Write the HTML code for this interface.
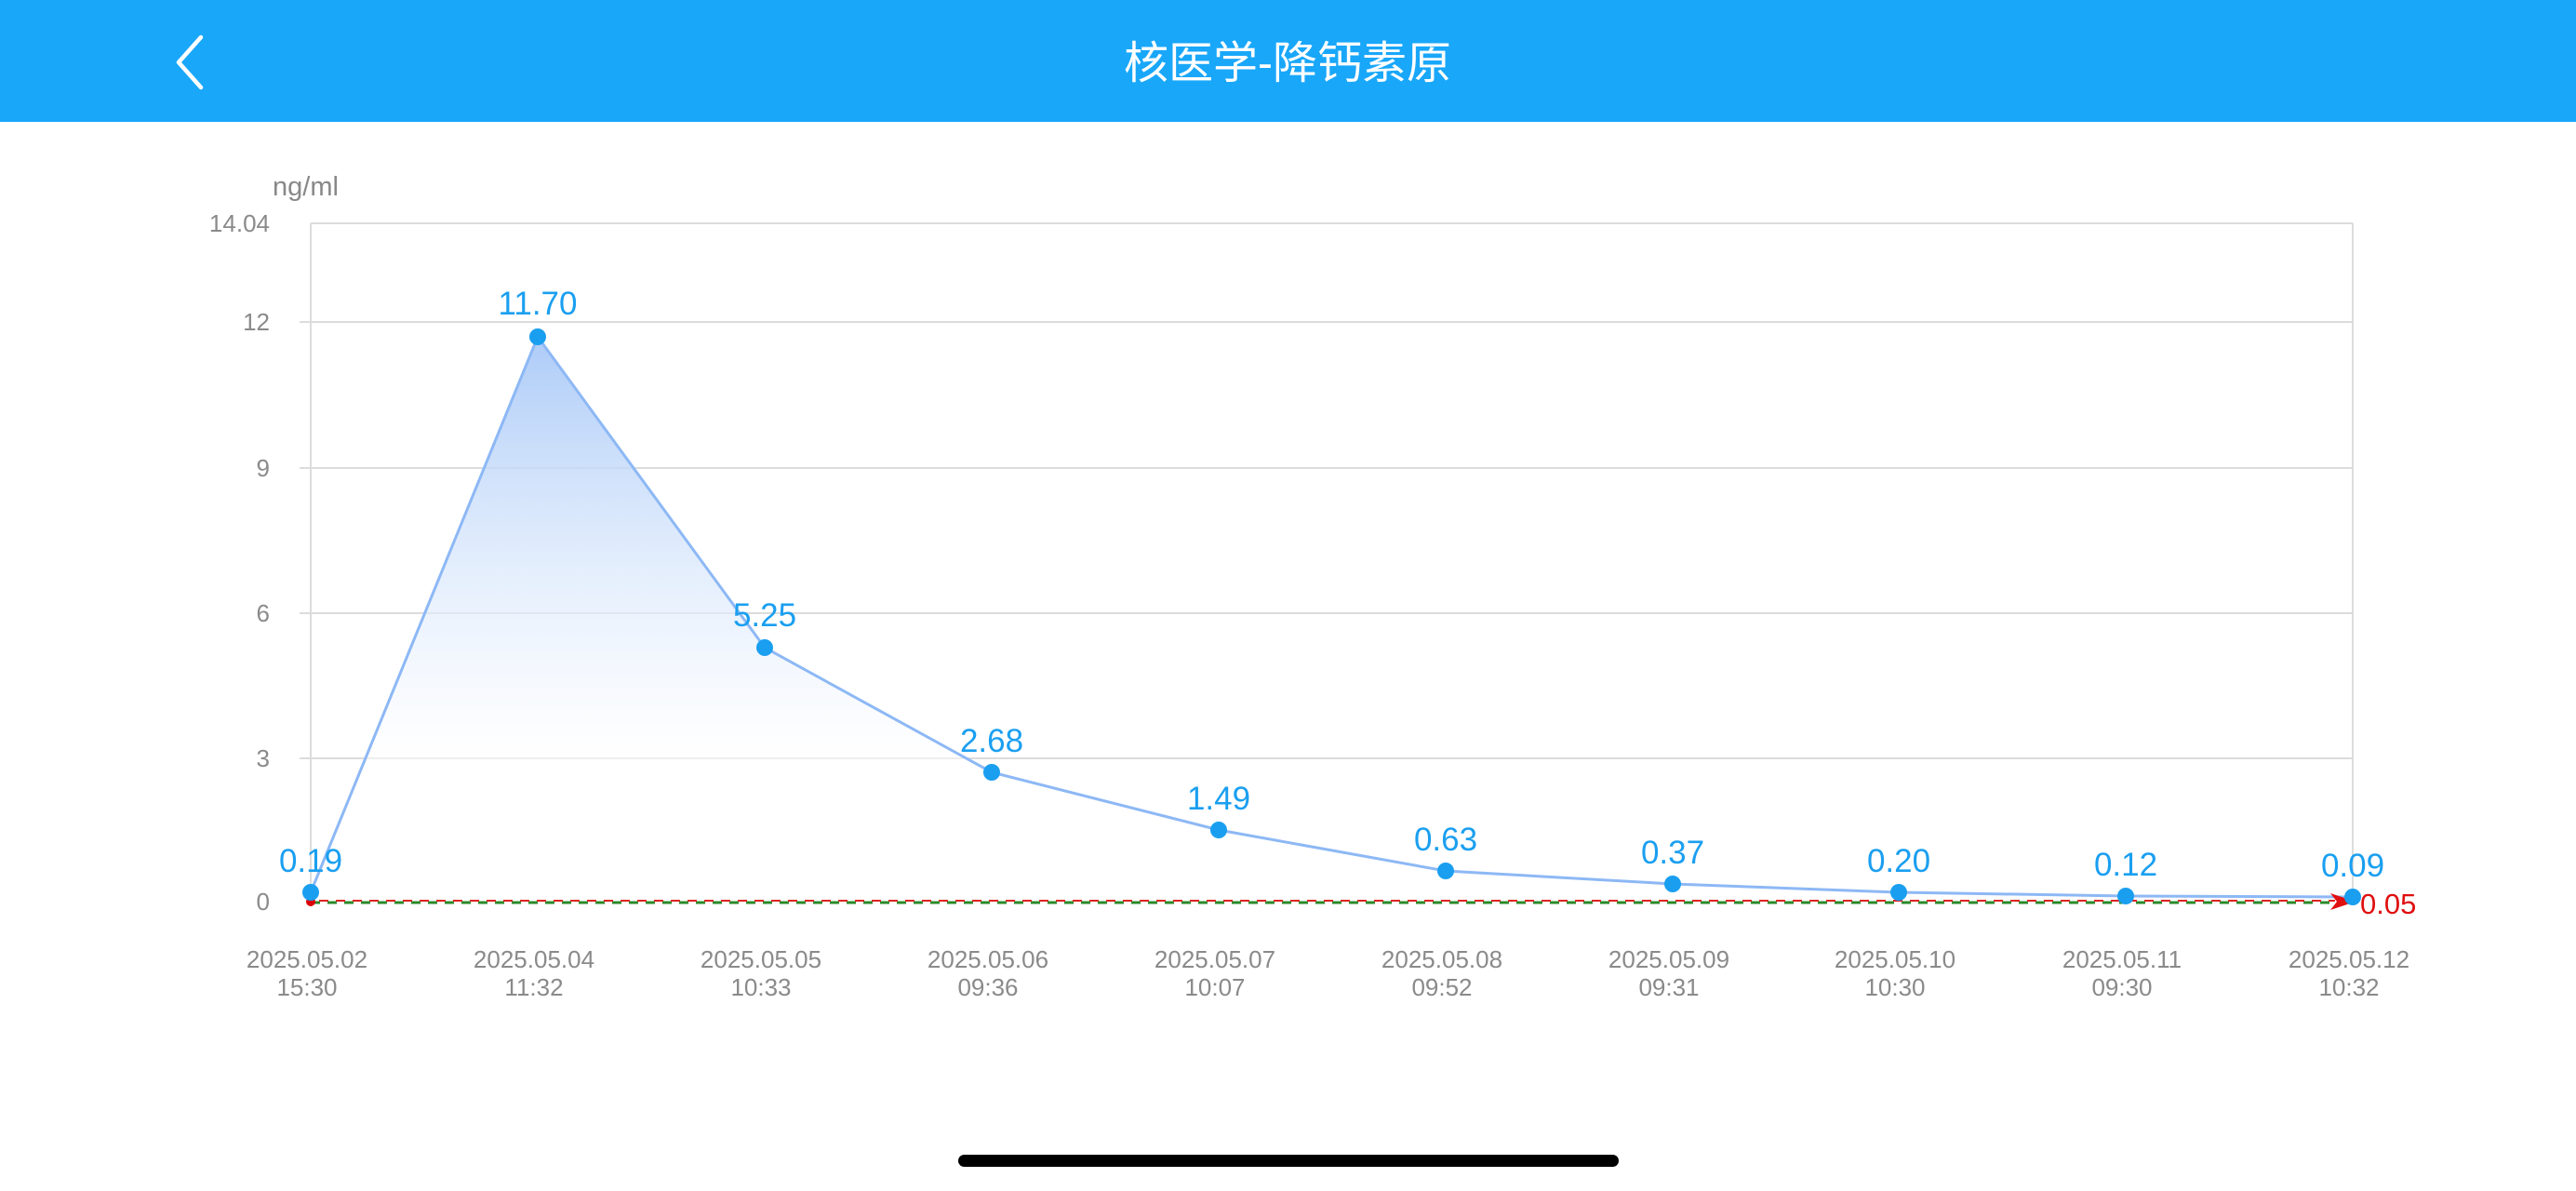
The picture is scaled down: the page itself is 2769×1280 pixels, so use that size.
<!DOCTYPE html>
<html><head><meta charset="utf-8"><style>
html,body{margin:0;padding:0;background:#fff;width:2769px;height:1280px;overflow:hidden}
</style></head><body>
<svg width="2769" height="1280" xmlns="http://www.w3.org/2000/svg" font-family="'Liberation Sans','Noto Sans CJK SC',sans-serif">
<defs>
<linearGradient id="g" x1="0" y1="0" x2="0" y2="1" gradientUnits="objectBoundingBox">
<stop offset="0" stop-color="#a9c9f7" stop-opacity="0.95"/>
<stop offset="0.75" stop-color="#ffffff" stop-opacity="0.5"/>
<stop offset="1" stop-color="#ffffff" stop-opacity="0"/>
</linearGradient>
</defs>
<rect x="0" y="0" width="2769" height="131" fill="#19a7fa"/>
<polyline points="216,40 192,67 216,94" fill="none" stroke="#fff" stroke-width="4.5" stroke-linecap="round" stroke-linejoin="round"/>
<text x="1384" y="84" fill="#fff" font-size="48" text-anchor="middle">核医学-降钙素原</text>
<text x="293" y="210" fill="#888" font-size="29">ng/ml</text>
<g stroke="#dcdcdc" stroke-width="2">
<line x1="334" y1="240" x2="2529" y2="240"/>
<line x1="322" y1="346" x2="2529" y2="346"/>
<line x1="322" y1="503" x2="2529" y2="503"/>
<line x1="322" y1="659" x2="2529" y2="659"/>
<line x1="322" y1="815" x2="2529" y2="815"/>
<line x1="334" y1="240" x2="334" y2="969"/>
<line x1="2529" y1="240" x2="2529" y2="969"/>
</g>
<g fill="#8a8a8a" font-size="26" text-anchor="end">
<text x="290" y="249">14.04</text>
<text x="290" y="355">12</text>
<text x="290" y="512">9</text>
<text x="290" y="668">6</text>
<text x="290" y="824">3</text>
<text x="290" y="978">0</text>
</g>
<polygon fill="url(#g)" points="334,969 334,959 578,362 822,696 1066,830 1310,892 1554,936 1798,950 2041,959 2285,963 2529,964 2529,969"/>
<polyline fill="none" stroke="#8db8f5" stroke-width="3" points="334,959 578,362 822,696 1066,830 1310,892 1554,936 1798,950 2041,959 2285,963 2529,964"/>
<line x1="334" y1="970" x2="2510" y2="970" stroke="#2a8a2a" stroke-width="3" stroke-dasharray="10 8"/>
<line x1="334" y1="968" x2="2510" y2="968" stroke="#d22" stroke-width="2" stroke-dasharray="10 8" stroke-dashoffset="9"/>
<polygon points="2505,960 2532,969 2505,978 2512,969" fill="#e01010"/>
<circle cx="334" cy="969" r="5" fill="#d00"/>
<g fill="#1a9ff0">
<circle cx="334" cy="959" r="9"/><circle cx="578" cy="362" r="9"/><circle cx="822" cy="696" r="9"/><circle cx="1066" cy="830" r="9"/><circle cx="1310" cy="892" r="9"/><circle cx="1554" cy="936" r="9"/><circle cx="1798" cy="950" r="9"/><circle cx="2041" cy="959" r="9"/><circle cx="2285" cy="963" r="9"/><circle cx="2529" cy="964" r="9"/>
</g>
<g fill="#1a9ff0" font-size="35" text-anchor="middle">
<text x="334" y="937">0.19</text>
<text x="578" y="338">11.70</text>
<text x="822" y="673">5.25</text>
<text x="1066" y="808">2.68</text>
<text x="1310" y="870">1.49</text>
<text x="1554" y="914">0.63</text>
<text x="1798" y="928">0.37</text>
<text x="2041" y="937">0.20</text>
<text x="2285" y="941">0.12</text>
<text x="2529" y="942">0.09</text>
</g>
<text x="2537" y="982" fill="#e01010" font-size="31">0.05</text>
<g fill="#8a8a8a" font-size="26" text-anchor="middle">
<text x="330" y="1040">2025.05.02</text><text x="330" y="1070">15:30</text>
<text x="574" y="1040">2025.05.04</text><text x="574" y="1070">11:32</text>
<text x="818" y="1040">2025.05.05</text><text x="818" y="1070">10:33</text>
<text x="1062" y="1040">2025.05.06</text><text x="1062" y="1070">09:36</text>
<text x="1306" y="1040">2025.05.07</text><text x="1306" y="1070">10:07</text>
<text x="1550" y="1040">2025.05.08</text><text x="1550" y="1070">09:52</text>
<text x="1794" y="1040">2025.05.09</text><text x="1794" y="1070">09:31</text>
<text x="2037" y="1040">2025.05.10</text><text x="2037" y="1070">10:30</text>
<text x="2281" y="1040">2025.05.11</text><text x="2281" y="1070">09:30</text>
<text x="2525" y="1040">2025.05.12</text><text x="2525" y="1070">10:32</text>
</g>
<rect x="1030" y="1241" width="710" height="13" rx="6.5" fill="#000"/>
</svg>
</body></html>
